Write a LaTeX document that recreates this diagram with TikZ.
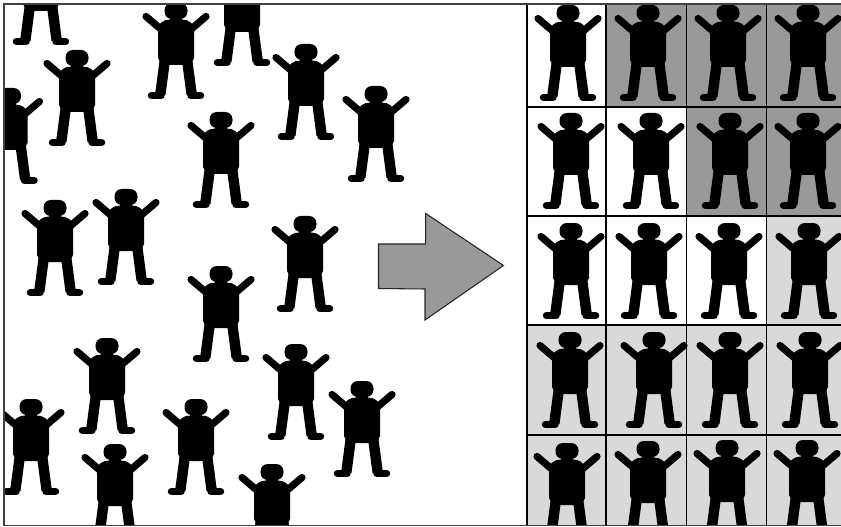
\documentclass[tikz,border=0pt]{standalone}
\usepackage{tikz}
\usetikzlibrary{calc}

\definecolor{darkcell}{gray}{0.6}
\definecolor{lightcell}{gray}{0.85}

\tikzset{
    person/.pic={
        % head
        \fill[rounded corners=5.5pt] (-11.5,-8) rectangle (11.5,8);
        \fill (-6,6) rectangle (6,11);
        % torso
        \fill (-18,47) -- (-18,18) .. controls (-18,12) and (-12,8.5) .. (-6,8.5)
              -- (6,8.5) .. controls (12,8.5) and (18,12) .. (18,18)
              -- (18,47) -- (14.5,54) -- (-14.5,54) -- cycle;
        % arms
        \draw[limb] (-30,5.5) -- (-13,20);
        \draw[limb] (30,5.5) -- (13,20);
        % legs
        \fill (-16.5,50) -- (-21,84) -- (-10.5,84) -- (-6,50) -- cycle;
        \fill (16.5,50) -- (21,84) -- (10.5,84) -- (6,50) -- cycle;
        % feet
        \draw[sole] (-24.5,84.5) -- (-15,84.5);
        \draw[sole] (24.5,84.5) -- (15,84.5);
    }
}

\begin{document}
\begin{tikzpicture}[
        x=0.75pt, y=-0.75pt,
        limb/.style={line width=5.4pt, line cap=round},
        sole/.style={line width=5.6pt, line cap=round},
        gridline/.style={draw=black, line width=0.8pt},
        frameline/.style={draw=black!75, line width=1pt},
        pointer/.style={draw=black!85, fill=darkcell, line width=0.8pt, line join=miter}
    ]
    \useasboundingbox (0,0) rectangle (841,527);

    %% ---- Cell backgrounds ----
    \fill[darkcell] (606,4) rectangle (842,107);
    \fill[darkcell] (686,107) rectangle (842,216);
    \fill[lightcell] (766,216) rectangle (842,325);
    \fill[lightcell] (527,325) rectangle (842,526);

    %% ---- People, cut at the frame ----
    \begin{scope}
        \clip (4,4) rectangle (841,525.5);
        % crowd
        \foreach \px/\py in {41/-43, 77/58, 176/11, 242/-22, 306/52, 376/94, 9.5/96, 221/120,
                             55/208, 126/197, 305/224, 221/274, 107/346, 296/352, 362/389,
                             31/407, 196/407, 115/452, 272/472}
            \pic at (\px,\py) {person};
        % sorted rows
        \foreach \px/\py in {568/13, 648/13, 728/13, 808/13,
                             571/121, 651/121, 730/121, 808/121,
                             571/231, 649/231, 729/231, 809/231,
                             570/340, 654/340, 730/340, 810/340,
                             567/451, 648/449, 727/448, 807/448}
            \pic at (\px,\py) {person};
    \end{scope}

    %% ---- Grid ----
    \foreach \gx in {527,606,686.5,766.5}
        \draw[gridline] (\gx,4) -- (\gx,525.5);
    \foreach \gy in {107,216,325,435}
        \draw[gridline] (527,\gy) -- (842,\gy);

    %% ---- Frame ----
    \draw[frameline] (842,4) -- (4,4) -- (4,525.5) -- (842,525.5);

    %% ---- Big arrow ----
    \draw[pointer] (378.5,244) -- (425.7,244) -- (425.7,213.5) -- (503.5,265.5)
                   -- (425,320) -- (425,289) -- (378.5,288.5) -- cycle;

\end{tikzpicture}
\end{document}
